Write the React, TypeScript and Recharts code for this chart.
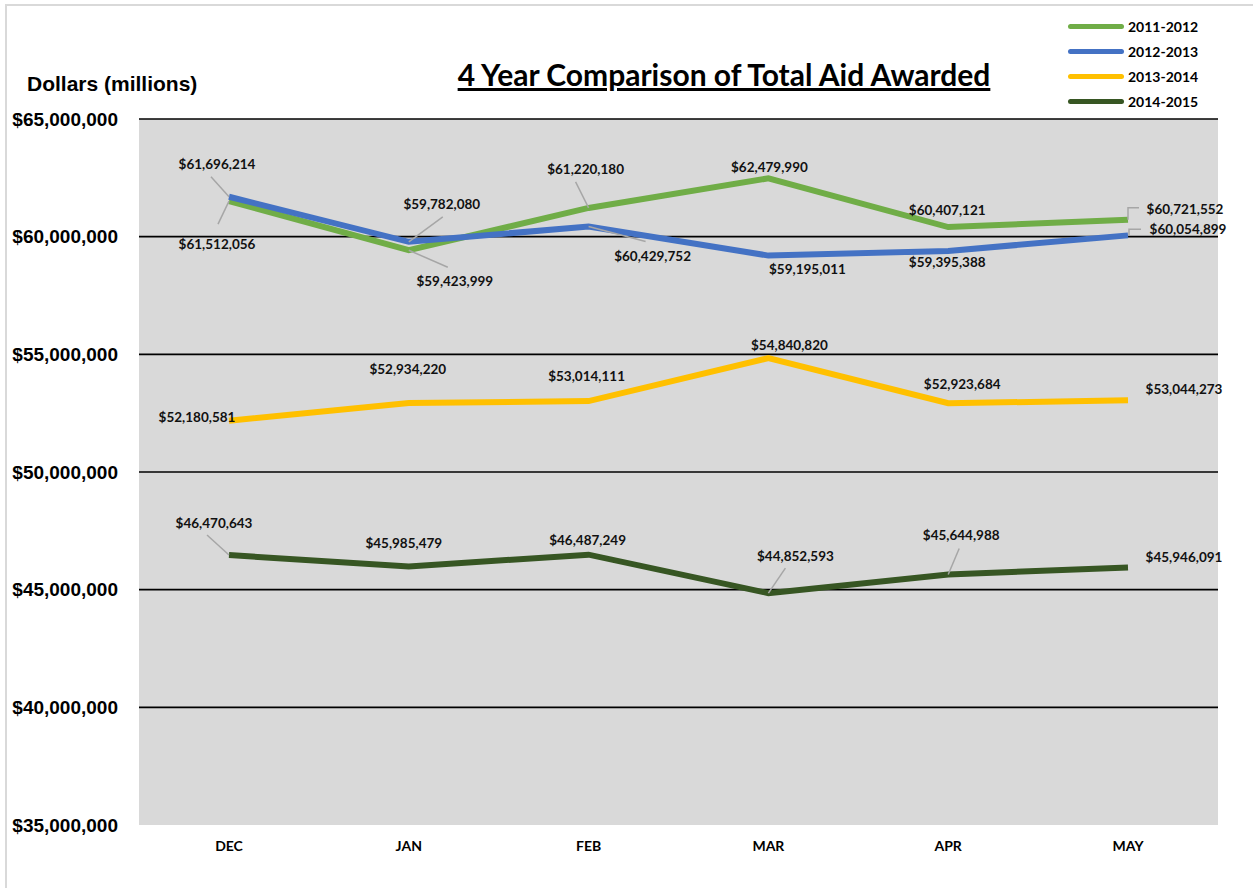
import React from 'react';
import { LineChart, Line, XAxis, YAxis, CartesianGrid, ReferenceLine } from 'recharts';

const months = ['DEC', 'JAN', 'FEB', 'MAR', 'APR', 'MAY'];
const aid2011 = [61512056, 59423999, 61220180, 62479990, 60407121, 60721552];
const aid2012 = [61696214, 59782080, 60429752, 59195011, 59395388, 60054899];
const aid2013 = [52180581, 52934220, 53014111, 54840820, 52923684, 53044273];
const aid2014 = [46470643, 45985479, 46487249, 44852593, 45644988, 45946091];
const yTicks = [35000000, 40000000, 45000000, 50000000, 55000000, 60000000, 65000000];
const seriesNames = ['2011-2012', '2012-2013', '2013-2014', '2014-2015'];

const data = months.map((m, i) => ({
  month: m,
  s2011: aid2011[i],
  s2012: aid2012[i],
  s2013: aid2013[i],
  s2014: aid2014[i],
}));

const colors = ['#70ad47', '#4472c4', '#ffc000', '#375623'];
const keys = ['s2011', 's2012', 's2013', 's2014'];

// label placement: [dx, dy] of label centre from the point, plus optional leader line points
type Place = { dx: number; dy: number; lead?: number[][] };
const placements: Place[][] = [
  [
    { dx: -12, dy: 43, lead: [[0, 0], [-11, 23]] },
    { dx: 46, dy: 31, lead: [[0, 0], [39, 17]] },
    { dx: -3, dy: -39, lead: [[0, 0], [-13, -26]] },
    { dx: 1, dy: -11 },
    { dx: -1, dy: -17 },
    { dx: 57, dy: -11, lead: [[0, 0], [0, -12], [11, -12]] },
  ],
  [
    { dx: -12, dy: -33, lead: [[0, 0], [-18, -20]] },
    { dx: 33, dy: -38, lead: [[0, 0], [34, -25]] },
    { dx: 64, dy: 29, lead: [[0, 0], [57, 15]] },
    { dx: 39, dy: 13 },
    { dx: -1, dy: 11 },
    { dx: 60, dy: -6, lead: [[1, 0], [1, -6], [13, -6]] },
  ],
  [
    { dx: -32, dy: -4 },
    { dx: -1, dy: -34 },
    { dx: -2, dy: -25 },
    { dx: 21, dy: -13 },
    { dx: 14, dy: -19 },
    { dx: 56, dy: -11 },
  ],
  [
    { dx: -15, dy: -32, lead: [[0, 0], [-22, -20]] },
    { dx: -5, dy: -23 },
    { dx: -1, dy: -15 },
    { dx: 27, dy: -37, lead: [[0, 0], [17, -25]] },
    { dx: 13, dy: -39, lead: [[0, 0], [11, -26]] },
    { dx: 56, dy: -10 },
  ],
];

const money = (v: number) => '$' + v.toLocaleString('en-US');

const makeLabel = (s: number) => (props: any) => {
  const { x, y, value, index } = props;
  const p = placements[s][index];
  if (!p) return null;
  return (
    <g key={`l-${s}-${index}`}>
      {p.lead && (
        <polyline
          points={p.lead.map(([a, b]) => `${x + a},${y + b}`).join(' ')}
          fill="none"
          stroke="#a6a6a6"
          strokeWidth={1.5}
        />
      )}
      <text
        x={x + p.dx}
        y={y + p.dy}
        textAnchor="middle"
        dominantBaseline="central"
        style={{ fontFamily: 'Lato, sans-serif', fontWeight: 700, fontSize: 13.5, fill: '#111' }}
      >
        {money(value)}
      </text>
    </g>
  );
};

export default function App() {
  return (
    <div
      style={{
        position: 'absolute',
        left: 0,
        top: 0,
        width: 1253,
        height: 888,
        overflow: 'hidden',
        background: '#fff',
      }}
    >
      <div
        style={{
          position: 'absolute',
          left: 5,
          top: 4,
          width: 1300,
          height: 950,
          border: '2px solid #d9d9d9',
        }}
      />
      <div style={{ position: 'absolute', left: 0, top: 0 }}>
        <LineChart width={1253} height={888} data={data} margin={{ top: 119, right: 35, bottom: 0, left: 0 }}>
          <CartesianGrid fill="#d9d9d9" fillOpacity={1} horizontal={false} vertical={false} stroke="none" />
          <XAxis
            dataKey="month"
            axisLine={false}
            tickLine={false}
            tickSize={0}
            tickMargin={16}
            height={63}
            padding={{ left: 90, right: 90 }}
            tick={{ fontFamily: 'Lato, sans-serif', fontWeight: 700, fontSize: 14, fill: '#000' }}
          />
          <YAxis
            domain={[35000000, 65000000]}
            ticks={yTicks}
            width={139}
            axisLine={false}
            tickLine={false}
            tickSize={0}
            tickMargin={21}
            tickFormatter={money}
            tick={{ fontFamily: '"Liberation Sans", Arial, sans-serif', fontWeight: 700, fontSize: 19, fill: '#000' }}
          />
          {yTicks.slice(1).map((t) => (
            <ReferenceLine key={t} y={t} stroke="#000" strokeWidth={1.6} />
          ))}
          {keys.map((k, s) => (
            <Line
              key={k}
              dataKey={k}
              type="linear"
              stroke={colors[s]}
              strokeWidth={6}
              dot={false}
              isAnimationActive={false}
              label={makeLabel(s)}
            />
          ))}
        </LineChart>
      </div>
      <div
        style={{
          position: 'absolute',
          left: 27,
          top: 72,
          fontFamily: '"Liberation Sans", Arial, sans-serif',
          fontWeight: 700,
          fontSize: 21,
          color: '#000',
          whiteSpace: 'nowrap',
        }}
      >
        Dollars (millions)
      </div>
      <div
        style={{
          position: 'absolute',
          left: 374,
          width: 700,
          top: 56,
          textAlign: 'center',
          fontFamily: 'Lato, sans-serif',
          fontWeight: 700,
          fontSize: 30,
          color: '#000',
          textDecoration: 'underline',
          whiteSpace: 'nowrap',
        }}
      >
        4 Year Comparison of Total Aid Awarded
      </div>
      {seriesNames.map((n, i) => (
        <div
          key={n}
          style={{
            position: 'absolute',
            left: 1068,
            top: 17 + i * 25,
            height: 18,
            display: 'flex',
            alignItems: 'center',
            fontFamily: 'Lato, sans-serif',
            fontWeight: 700,
            fontSize: 14,
            color: '#000',
            whiteSpace: 'nowrap',
          }}
        >
          <span
            style={{
              display: 'inline-block',
              width: 56,
              height: 5,
              borderRadius: 3,
              background: colors[i],
              marginRight: 4,
            }}
          />
          {n}
        </div>
      ))}
    </div>
  );
}
